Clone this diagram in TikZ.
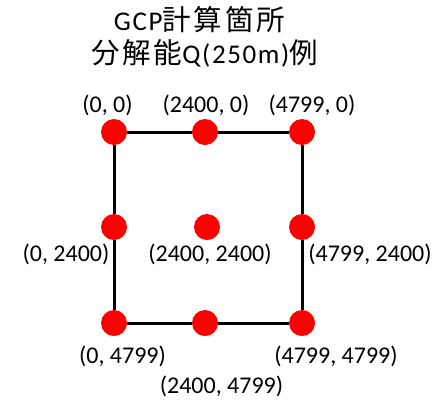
\documentclass[tikz,border=0pt]{standalone}
\usepackage{fontspec}
\setmainfont{Carlito}
\newfontfamily\ttllatin[LetterSpace=6]{Carlito}
\newfontfamily\cjk[LetterSpace=10]{Noto Sans CJK JP}
\newcommand{\jtxt}[1]{{\cjk\fontsize{28.5}{32}\selectfont #1}}
\begin{document}
\begin{tikzpicture}[x=1pt,y=-1pt,
  gcp/.style={circle,fill=red,inner sep=0pt,minimum size=26pt},
  lbl/.style={anchor=base,inner sep=0pt,font=\fontsize{24}{28}\selectfont},
  ttl/.style={anchor=base,inner sep=0pt,font=\ttllatin\fontsize{27}{31}\selectfont},
  conn/.style={line width=3pt,black}]
\useasboundingbox (0,0) rectangle (446,399);
% title
\node[ttl] (t1) at (199.5,30.5) {GCP\jtxt{計算箇所}};
\node[ttl] (t2) at (204.5,63.5) {\jtxt{分解能}Q(250m)\jtxt{例}};
% points
\node[gcp] (tl) at (114,132) {};
\node[gcp] (tm) at (205,132) {};
\node[gcp] (tr) at (302,132) {};
\node[gcp] (ml) at (114,227) {};
\node[gcp] (mm) at (207,227) {};
\node[gcp] (mr) at (302,227) {};
\node[gcp] (bl) at (114,323) {};
\node[gcp] (bm) at (205,323) {};
\node[gcp] (br) at (302,323) {};
% connectors
\draw[conn] (tl) -- (tm);
\draw[conn] (tm) -- (tr);
\draw[conn] (tl) -- (ml);
\draw[conn] (ml) -- (bl);
\draw[conn] (tr) -- (mr);
\draw[conn] (mr) -- (br);
\draw[conn] (bl) -- (bm);
\draw[conn] (bm) -- (br);
% labels
\node[lbl] (ltl) at (107.5,112) {(0, 0)};
\node[lbl] (ltm) at (206,112) {(2400, 0)};
\node[lbl] (ltr) at (312,112) {(4799, 0)};
\node[lbl] (lml) at (66,261) {(0, 2400)};
\node[lbl] (lmm) at (210,261) {(2400, 2400)};
\node[lbl] (lmr) at (370,261) {(4799, 2400)};
\node[lbl] (lbl) at (122.5,363) {(0, 4799)};
\node[lbl] (lbr) at (336,363) {(4799, 4799)};
\node[lbl] (lbm) at (221.5,393) {(2400, 4799)};
\end{tikzpicture}
\end{document}
